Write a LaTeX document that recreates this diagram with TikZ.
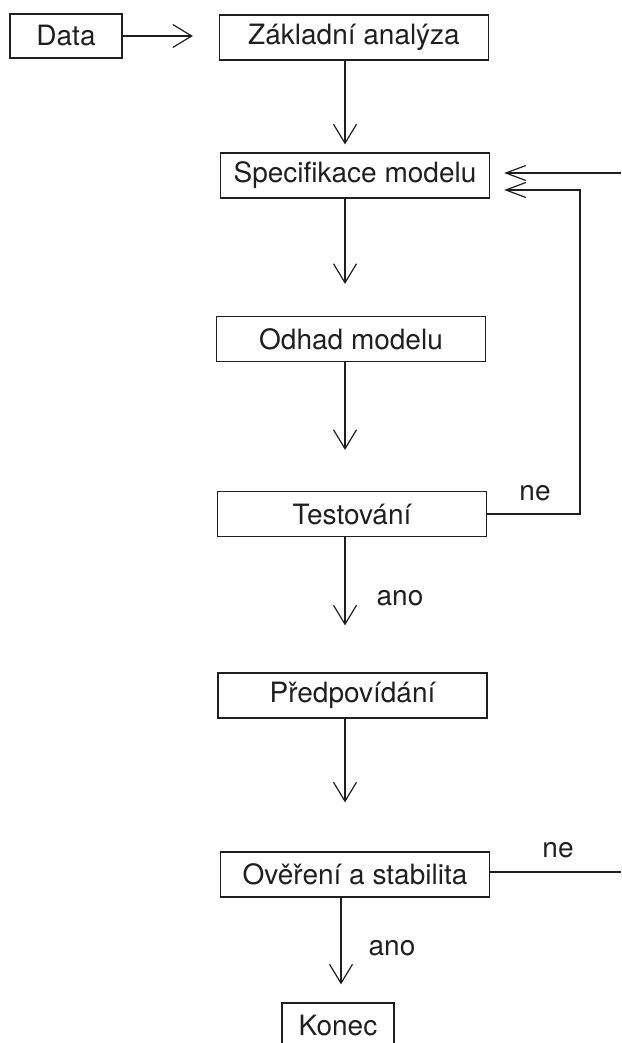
\documentclass[tikz,border=0pt]{standalone}
\usepackage{fontspec}
\setmainfont{TeX Gyre Heros}
\usetikzlibrary{arrows.meta}

\tikzset{
  box/.style={draw, line width=1.2pt, minimum width=269pt, minimum height=45pt, inner sep=0pt},
  smallbox/.style={draw, line width=1.2pt, minimum width=112pt, minimum height=44pt, inner sep=0pt},
  arr/.style={line width=1.2pt, -{Straight Barb[length=19pt, width=23pt]}},
  backarr/.style={line width=1.2pt, -{Straight Barb[length=20pt, width=15pt]}},
  lbl/.style={inner sep=0pt}
}

\begin{document}
\begin{tikzpicture}[x=1pt, y=-1pt, font=\fontsize{28}{32}\selectfont, color={black!88}]
  \clip (0,0) rectangle (621,1043);

  % boxes
  \node[smallbox] (data) at (66,36) {Data};
  \node[box] (zakl) at (354,37.5) {Základní analýza};
  \node[box] (spec) at (355,175.5) {Specifikace modelu};
  \node[box] (odhad) at (351,339) {Odhad modelu};
  \node[box] (test) at (352,514) {Testování};
  \node[box] (predp) at (352.5,695.5) {Předpovídání};
  \node[box] (over) at (355,874.5) {Ověření a stabilita};
  \node[smallbox, minimum height=45pt] (konec) at (338,1025.5) {Konec};

  % helper points
  \coordinate (col) at (345,0);
  \coordinate (col2) at (341,0);
  \coordinate (loop) at (580,190);
  \coordinate (topin) at (621,173);
  \coordinate (outr) at (621,872);

  % main flow
  \draw[arr, shorten >=26pt] (data.east) -- (zakl.west |- data.east);
  \draw[arr, shorten >=8pt] (zakl.south -| col) -- (spec.north -| col);
  \draw[arr, shorten >=32pt] (spec.south -| col) -- (odhad.north -| col);
  \draw[arr, shorten >=41pt] (odhad.south -| col) -- (test.north -| col);
  \draw[arr, shorten >=47pt] (test.south -| col) -- (predp.north -| col);
  \draw[arr, shorten >=49pt] (predp.south -| col) -- (over.north -| col);
  \draw[arr, shorten >=18pt] (over.south -| col2) -- (konec.north -| col2);

  % feedback
  \draw[backarr, shorten >=14pt] (test.east) -| (loop) -- ([yshift=-14.5pt]spec.east);
  \draw[backarr, shorten >=14pt] (topin) -- ([yshift=2.5pt]spec.east);
  \draw[line width=1.2pt] ([yshift=2.5pt]over.east) -- (outr);

  % labels
  \node[lbl] (ne1) at (535,493) {ne};
  \node[lbl] (ano1) at (400,598) {ano};
  \node[lbl] (ne2) at (558,850) {ne};
  \node[lbl] (ano2) at (392,948) {ano};
\end{tikzpicture}
\end{document}
